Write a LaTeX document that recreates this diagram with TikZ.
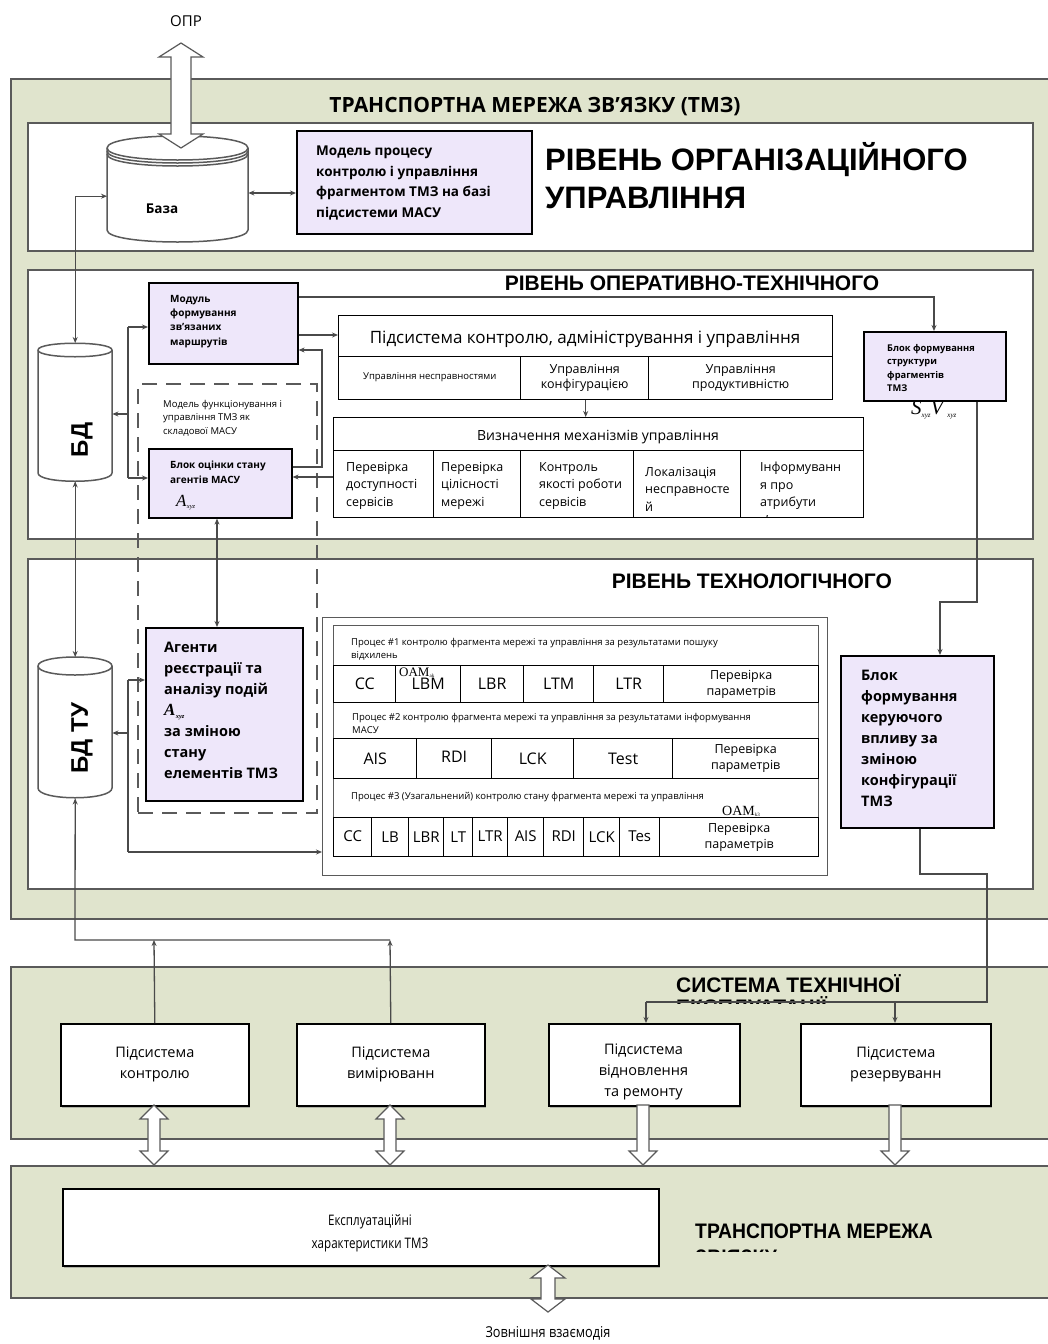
\documentclass[tikz,border=0pt]{standalone}
\usepackage{fontspec}
\setmainfont{Open Sans}
\newfontfamily\hdf{Liberation Sans}
\newfontfamily\srf{Liberation Serif}
\usetikzlibrary{arrows.meta,shadows}
\definecolor{grnbg}{HTML}{E0E4CD}
\definecolor{purp}{HTML}{EEE7FA}
\definecolor{edgec}{HTML}{5A5A5A}
\definecolor{lnc}{HTML}{4A4A4A}
\newcommand\fsz[2]{\fontsize{#1}{#2}\selectfont}
\newcommand\mkbox[7]{\node[#1,anchor=north west,inner sep=0pt,minimum width={((#4)-(#2))*1pt},minimum height={((#5)-(#3))*1pt}] (#6) at (#2,#3) {#7};}
\newcommand\Axyz{{\srf\itshape\fsz{17}{17}A\kern0.3pt\raisebox{-2.5pt}{\fsz{6.5}{6.5}xyz}}}
\newcommand\hdbl[6]{\filldraw[hol] (#1,#2) -- ({#1+#5},{#2+#6}) -- ({#1+#4},{#2+#6}) -- ({#1+#4},{#3-#6}) -- ({#1+#5},{#3-#6}) -- (#1,#3) -- ({#1-#5},{#3-#6}) -- ({#1-#4},{#3-#6}) -- ({#1-#4},{#2+#6}) -- ({#1-#5},{#2+#6}) -- cycle;}
\newcommand\hdown[6]{\filldraw[hol] ({#1-#4},#2) -- ({#1+#4},#2) -- ({#1+#4},{#3-#6}) -- ({#1+#5},{#3-#6}) -- (#1,#3) -- ({#1-#5},{#3-#6}) -- ({#1-#4},{#3-#6}) -- cycle;}
\begin{document}
\begin{tikzpicture}[x=1pt,y=-1pt,
  grn/.style={fill=grnbg,draw=edgec,line width=2pt},
  lvl/.style={fill=white,draw=edgec,line width=2pt},
  pbox/.style={fill=purp,draw=black,line width=1.6pt},
  sbox/.style={fill=white,draw=black,line width=1.6pt,drop shadow={shadow xshift=1.5pt,shadow yshift=-2pt,opacity=0.5}},
  cellb/.style={draw=black,line width=1.4pt,fill=white},
  rowb/.style={draw=edgec,line width=0.9pt,fill=white},
  procs/.style={draw=edgec,line width=1.3pt,fill=white},
  dsh/.style={draw=edgec,line width=2pt,dash pattern=on 15pt off 9pt},
  ghost/.style={draw=none},
  arr/.style={draw=lnc,line width=1.3pt,-{Stealth[length=6pt,width=5pt]}},
  darr/.style={draw=lnc,line width=1.3pt,{Stealth[length=6pt,width=5pt]}-{Stealth[length=6pt,width=5pt]}},
  ln/.style={draw=lnc,line width=1.3pt},
  tl/.style={inner sep=0pt,anchor=north west,align=left},
  hd/.style={inner sep=0pt,font=\hdf\bfseries\fsz{21}{24}},
  cyl/.style={fill=white,draw=edgec,line width=1.5pt},
  hol/.style={fill=white,draw=edgec,line width=1.2pt},
  ctx/.style={inner sep=0pt},
]
\useasboundingbox (0,0) rectangle (1048,1344);
\clip (0,0) rectangle (1048,1344);

% ---------- outer frames
\mkbox{grn}{10}{78}{1070}{918}{tmz}{}
\mkbox{grn}{10}{966}{1070}{1138}{ste}{}
\mkbox{grn}{10}{1165}{1070}{1297}{tmb}{}
\node[ctx,anchor=base,font=\bfseries\fsz{21}{22}] (tmzt) at (535,112) {ТРАНСПОРТНА МЕРЕЖА ЗВ’ЯЗКУ (ТМЗ)};
\node[ctx,font=\fsz{15}{15}] (opr) at (186,21) {ОПР};

\mkbox{lvl}{27}{122}{1032}{250}{org}{}
\mkbox{lvl}{27}{269}{1032}{538}{oper}{}
\mkbox{lvl}{27}{558}{1032}{888}{tech}{}

\node[ctx,anchor=base west,font=\hdf\bfseries\fsz{31}{31}] (orgt1) at (545,170) {РІВЕНЬ ОРГАНІЗАЦІЙНОГО};
\node[ctx,anchor=base west,font=\hdf\bfseries\fsz{31}{31}] (orgt2) at (545,208) {УПРАВЛІННЯ};
\node[hd,anchor=base] (opert) at (692,290) {РІВЕНЬ ОПЕРАТИВНО-ТЕХНІЧНОГО};
\node[hd,anchor=base east] (techt) at (892,588) {РІВЕНЬ ТЕХНОЛОГІЧНОГО};
\node[hd,anchor=base west] (stet) at (676,992) {СИСТЕМА ТЕХНІЧНОЇ};
\begin{scope}
\clip (660,995) rectangle (960,1003);
\node[hd,anchor=base west] (stet2) at (676,1014) {ЕКСПЛУАТАЦІЇ};
\end{scope}

% ---------- organisational level
\mkbox{ghost}{107}{136}{248}{246}{baza}{}
\filldraw[cyl] (107,148) -- (107,230) .. controls (107,246) and (248,246) .. (248,230) -- (248,148) .. controls (248,132) and (107,132) .. (107,148) -- cycle;
\draw[cyl,fill=none] (107,148) .. controls (107,164) and (248,164) .. (248,148);
\draw[cyl,fill=none] (107,151) .. controls (107,167) and (248,167) .. (248,151);
\draw[cyl,fill=none] (107,154) .. controls (107,170) and (248,170) .. (248,154);
\node[ctx,font=\bfseries\fsz{13.5}{14}] (bazat) at (162,209) {База};
\hdbl{181}{43}{148}{10}{22}{14}

\mkbox{pbox}{296}{130}{531}{233}{model}{}
\node[tl,font=\bfseries\fsz{13.5}{20.5}] (modelt) at (316,146) {Модель процесу\\контролю і управління\\фрагментом ТМЗ на базі\\підсистеми МАСУ};
\draw[darr] (baza.east |- 0,193) -- (model.west |- 0,193);

% ---------- operational level
\mkbox{ghost}{38}{343}{112}{481}{bd}{}
\filldraw[cyl] (38,350) -- (38,473) .. controls (38,484) and (112,484) .. (112,473) -- (112,350) .. controls (112,341) and (38,341) .. (38,350) -- cycle;
\draw[cyl,fill=none] (38,350) .. controls (38,359) and (112,359) .. (112,350);
\node[ctx,rotate=90,font=\hdf\bfseries\fsz{24}{24}] (bdt) at (82,440) {БД};

\mkbox{dsh}{137}{383}{316}{812}{mfun}{}
\begin{scope}
\clip (140,390) rectangle (312,437);
\node[tl,font=\fsz{9.5}{13.5}] (mfunt) at (163,400) {Модель функціонування і\\управління ТМЗ як\\складової МАСУ};
\end{scope}

\mkbox{pbox}{148}{282}{297}{363}{modul}{}
\node[tl,font=\bfseries\fsz{10}{14.3}] (modult) at (170,295) {Модуль\\формування\\зв’язаних\\маршрутів};

\mkbox{pbox}{148}{448}{291}{517}{blok}{}
\node[tl,font=\bfseries\fsz{10}{15}] (blokt) at (170,461) {Блок оцінки стану\\агентів МАСУ};
\node[ctx,anchor=base west] (bloka) at (176,506) {\Axyz};

\mkbox{cellb}{338}{315}{832}{399}{pids}{}
\node[ctx,font=\fsz{17}{18}] (pidst) at (585,339) {Підсистема контролю, адміністрування і управління};
\mkbox{cellb,font=\fsz{9.5}{11}}{338}{356}{520}{399}{pc1}{\raisebox{4pt}{Управління несправностями}}
\mkbox{cellb,align=center,font=\fsz{12.5}{15}}{520}{356}{648}{399}{pc2}{Управління\\конфігурацією}
\mkbox{cellb,align=center,font=\fsz{12.5}{15}}{648}{356}{832}{399}{pc3}{Управління\\продуктивністю}

\mkbox{cellb}{333}{417}{863}{517}{vyz}{}
\node[ctx,font=\fsz{14}{15}] (vyzt) at (598,437) {Визначення механізмів управління};
\mkbox{cellb}{333}{450}{433}{517}{v1}{}
\mkbox{cellb}{433}{450}{520}{517}{v2}{}
\mkbox{cellb}{520}{450}{633}{517}{v3}{}
\mkbox{cellb}{633}{450}{740}{517}{v4}{}
\mkbox{cellb}{740}{450}{863}{517}{v5}{}
\node[tl,font=\fsz{12.5}{17.5}] (v1t) at (346,462) {Перевірка\\доступності\\сервісів};
\node[tl,font=\fsz{12.5}{17.5}] (v2t) at (441,462) {Перевірка\\цілісності\\мережі};
\node[tl,font=\fsz{12.5}{17.5}] (v3t) at (539,462) {Контроль\\якості роботи\\сервісів};
\begin{scope}
\clip (634,451) rectangle (862,516);
\node[tl,font=\fsz{12.5}{17.5}] (v4t) at (645,467) {Локалізація\\несправносте\\й};
\node[tl,font=\fsz{12.5}{17.5}] (v5t) at (760,462) {Інформуванн\\я про\\атрибути\\з’єднання};
\end{scope}

\mkbox{pbox}{863}{331}{1005}{400}{bstr}{}
\node[tl,font=\bfseries\fsz{9.3}{13.5}] (bstrt) at (887,344) {Блок формування\\структури\\фрагментів\\ТМЗ};
\node[ctx,anchor=base west] (sv) at (911,414) {\srf\itshape\fsz{21}{21}S\raisebox{-3pt}{\fsz{7}{7}xyz}V\kern4pt\raisebox{-3pt}{\fsz{7}{7}xyz}};

% ---------- technological level
\mkbox{ghost}{38}{657}{112}{798}{bdtu}{}
\filldraw[cyl] (38,666) -- (38,788) .. controls (38,801) and (112,801) .. (112,788) -- (112,666) .. controls (112,654) and (38,654) .. (38,666) -- cycle;
\draw[cyl,fill=none] (38,666) .. controls (38,678) and (112,678) .. (112,666);
\node[ctx,rotate=90,font=\hdf\bfseries\fsz{24}{24}] (bdtut) at (82,738) {БД ТУ};

\mkbox{pbox}{145}{627}{302}{800}{agenty}{}
\node[tl,font=\bfseries\fsz{14.5}{21}] (agentyt) at (164,642) {Агенти\\реєстрації та\\аналізу подій\\\Axyz\\за зміною\\стану\\елементів ТМЗ};

\mkbox{procs}{322}{617}{827}{875}{proc}{}
\mkbox{rowb}{333}{625}{818}{665}{pr1}{}
\mkbox{rowb}{333}{702}{818}{738}{pr2}{}
\mkbox{rowb}{333}{778}{818}{817}{pr3}{}
\node[tl,font=\fsz{9.5}{13}] (pr1t) at (351,638) {Процес \#1 контролю фрагмента мережі та управління за результатами пошуку\\відхилень};
\node[tl,font=\fsz{9.5}{13}] (pr2t) at (352,713) {Процес \#2 контролю фрагмента мережі та управління за результатами інформування\\МАСУ};
\node[tl,font=\fsz{9.5}{13}] (pr3t) at (351,792) {Процес \#3 (Узагальнений) контролю стану фрагмента мережі та управління};

\tikzset{pc/.style={cellb,font=\fsz{16}{18}},pp/.style={cellb,align=center,font=\fsz{12.5}{16}}}
\mkbox{pc}{333}{665}{395}{702}{a1}{\raisebox{-2pt}{CC}}
\mkbox{pc}{395}{665}{460}{702}{a2}{\raisebox{-4pt}{LBM}}
\mkbox{pc}{460}{665}{523}{702}{a3}{\raisebox{-2pt}{LBR}}
\mkbox{pc}{523}{665}{593}{702}{a4}{\raisebox{1pt}{LTM}}
\mkbox{pc}{593}{665}{663}{702}{a5}{\raisebox{1pt}{LTR}}
\mkbox{pp}{663}{665}{818}{702}{a6}{Перевірка\\параметрів}
\node[ctx,anchor=base west] (oam1) at (399,676) {\srf\fsz{13}{13}OAM\raisebox{-1pt}{\fsz{5}{5}ak}};

\mkbox{pc}{333}{738}{416}{778}{b1}{AIS}
\mkbox{pc}{416}{738}{491}{778}{b2}{\raisebox{3pt}{RDI}}
\mkbox{pc}{491}{738}{573}{778}{b3}{LCK}
\mkbox{pc}{573}{738}{672}{778}{b4}{Test}
\mkbox{pp}{672}{738}{818}{778}{b5}{Перевірка\\параметрів}

\tikzset{pq/.style={cellb,font=\fsz{15}{17}}}
\mkbox{pq}{333}{817}{371}{856}{c1}{\raisebox{3pt}{CC}}
\mkbox{pq}{371}{817}{408}{856}{c2}{LB}
\mkbox{pq}{408}{817}{443}{856}{c3}{LBR}
\mkbox{pq}{443}{817}{472}{856}{c4}{LT}
\mkbox{pq}{472}{817}{507}{856}{c5}{\raisebox{3pt}{LTR}}
\mkbox{pq}{507}{817}{543}{856}{c6}{\raisebox{3pt}{AIS}}
\mkbox{pq}{543}{817}{583}{856}{c7}{\raisebox{3pt}{RDI}}
\mkbox{pq}{583}{817}{619}{856}{c8}{LCK}
\mkbox{pq}{619}{817}{659}{856}{c9}{\raisebox{3pt}{Tes}}
\mkbox{pp}{659}{817}{818}{856}{c10}{Перевірка\\параметрів}
\node[ctx,anchor=base west] (oam3) at (722,815) {\srf\fsz{14}{14}OAM\raisebox{-1pt}{\fsz{5}{5}k3}};

\mkbox{pbox}{840}{655}{993}{827}{bker}{}
\node[tl,font=\bfseries\fsz{14.5}{21}] (bkert) at (861,670) {Блок\\формування\\керуючого\\впливу за\\зміною\\конфігурації\\ТМЗ};

% ---------- operation system
\mkbox{sbox,align=center,font=\fsz{14.5}{21}}{60}{1023}{248}{1105}{kontr}{Підсистема\\контролю}
\mkbox{sbox,align=center,font=\fsz{14.5}{21}}{296}{1023}{484}{1105}{vymir}{Підсистема\\вимірюванн}
\mkbox{sbox}{548}{1023}{739}{1105}{vidn}{}
\begin{scope}
\clip (550,1025) rectangle (737,1100);
\node[ctx,align=center,font=\fsz{14.5}{21}] (vidnt) at (643.5,1072) {Підсистема\\відновлення\\та ремонту};
\end{scope}
\mkbox{sbox,align=center,font=\fsz{14.5}{21}}{800}{1023}{990}{1105}{rez}{Підсистема\\резервуванн}

% ---------- bottom network
\mkbox{sbox}{62}{1188}{658}{1265}{expl}{}
\node[ctx,align=center,font=\fsz{14.5}{23}] (explt) at (370,1233) {\scalebox{0.8}[1]{Експлуатаційні}\\\scalebox{0.8}[1]{характеристики ТМЗ}};
\node[ctx,anchor=base west,font=\hdf\bfseries\fsz{21}{21}] (tmbt) at (695,1238) {\scalebox{0.92}[1]{ТРАНСПОРТНА МЕРЕЖА}};
\begin{scope}
\clip (690,1240) rectangle (960,1251);
\node[ctx,anchor=base west,font=\hdf\bfseries\fsz{21}{21}] (tmbt2) at (695,1264) {\scalebox{0.92}[1]{ЗВ’ЯЗКУ}};
\end{scope}
\node[ctx,font=\fsz{15}{15}] (zovn) at (548,1333) {\scalebox{0.85}[1]{Зовнішня взаємодія}};

% ---------- hollow arrows
\hdbl{154}{1105}{1165}{6}{14}{14}
\hdbl{390}{1105}{1165}{6}{14}{14}
\hdown{643}{1105}{1165}{6}{14}{14}
\hdown{895}{1105}{1165}{6}{14}{14}
\hdbl{548}{1265}{1312}{7}{17}{13}

% ---------- connectors
\draw[darr] ([yshift=-5pt]baza.west) -| (bd.north);
\draw[darr] (bd.south) -- (bdtu.north);
\draw[ln] (128,327) -- (128,478);
\draw[arr] (128,327) -- (modul.west |- 0,327);
\draw[arr] (128,414) -- (bd.east |- 0,414);
\draw[arr] (128,478) -- (blok.west |- 0,478);
\draw[arr] (modul.east |- 0,297) -| (bstr.north -| 934,0);
\draw[arr] (modul.east |- 0,335) -- (pids.west |- 0,335);
\draw[arr] (blok.east |- 0,467) -- (322,467) -- (322,350) -- (modul.east |- 0,350);
\draw[arr] (vyz.west |- 0,477) -- (blok.east |- 0,477);
\draw[arr] (pids.south) -- (pids.south |- vyz.north);
\draw[darr] (blok.south -| 217,0) -- (agenty.north -| 217,0);
\draw[ln] (128,680) -- (128,852);
\draw[arr] (128,680) -- (agenty.west |- 0,680);
\draw[arr] (128,733) -- (bdtu.east |- 0,733);
\draw[arr] (128,852) -- (proc.west |- 0,852);
\draw[arr] (bstr.south -| 977,0) -- (977,602) -- (940,602) -- (bker.north -| 940,0);
\draw[ln] (bker.south -| 920,0) -- (920,874) -- (987,874) -- (987,1002) -- (646,1002);
\draw[arr] (646,1002) -- (vidn.north -| 646,0);
\draw[arr] (895,1002) -- (rez.north -| 895,0);
\draw[arr] (kontr.north) -- (154,940);
\draw[arr] (vymir.north) -- (390,940);
\draw[arr] (390,940) -- (75,940) -- (bdtu.south);
\end{tikzpicture}
\end{document}
